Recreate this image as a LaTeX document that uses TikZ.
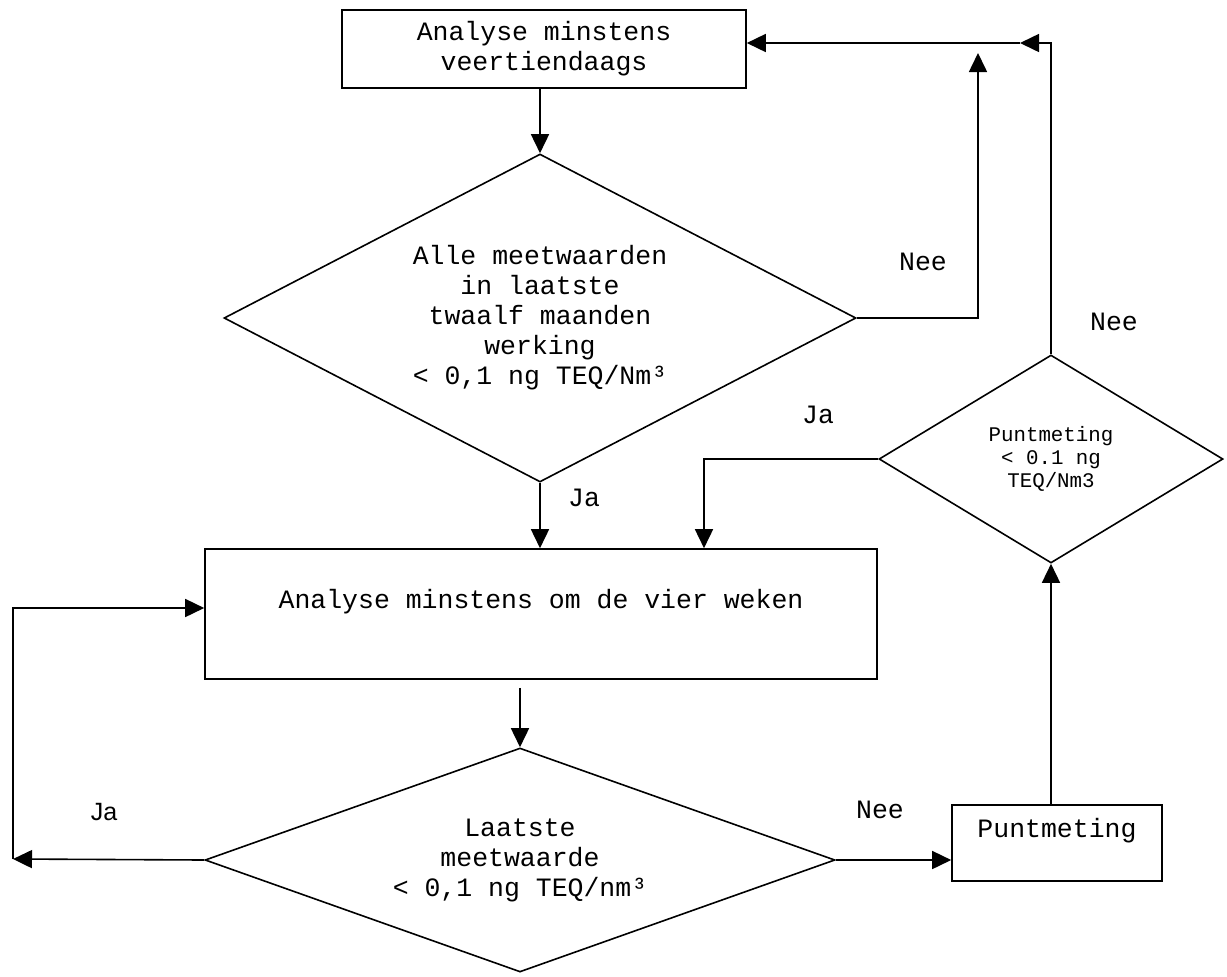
\documentclass[tikz,border=0pt]{standalone}
\usepackage{fontspec}
\setmainfont{Liberation Mono}
\setsansfont{Liberation Sans}
\usetikzlibrary{positioning,shapes.geometric,arrows.meta}

\begin{document}
\begin{tikzpicture}[x=0.5pt, y=-0.5pt, line width=0.8pt,
  square/.style={rectangle, draw, align=center, inner sep=0pt},
  ruit/.style={diamond, draw, align=center, inner sep=0pt},
  pijl/.style={-{Triangle[length=9.5pt,width=9pt]}},
  every node/.style={font=\fontsize{13.25}{15}\selectfont}]
\useasboundingbox (0,0) rectangle (1227,976);
        \node at (544,49) [square, minimum width=202pt, minimum height=39pt] (a14) {Analyse minstens\\veertiendaags};
        \node at (540,318) [ruit, aspect=1.93, minimum width=316pt, minimum height=164pt] (v12) {Alle meetwaarden\\in laatste\\twaalf maanden\\werking\\< 0,1 ng TEQ/Nm³};
        \node at (541,614) [square, minimum width=336pt, minimum height=65pt] (a4) {Analyse minstens om de vier weken\\\mbox{}};
        \node at (520,860) [ruit, aspect=2.8, minimum width=315pt, minimum height=112pt] (v1) {Laatste\\meetwaarde\\< 0,1 ng TEQ/nm³};
        \node at (1057,843) [square, minimum width=105pt, minimum height=38pt] (pm) {Puntmeting\\\mbox{}};
        \node at (1051,459) [ruit, aspect=1.65, minimum width=172pt, minimum height=104pt, font=\fontsize{10.4}{11.5}\selectfont] (vpm) {Puntmeting\\< 0.1 ng\\TEQ/Nm3};
        \coordinate (n12) at (978,53);
        \coordinate (top) at (1020,43);
        \coordinate (ja3) at (704,0);
        \coordinate (lus) at (13,859);
        \coordinate (lus2) at (13,608);
        \draw [pijl](v12.north |- a14.south) -- (v12.north);
        \draw [pijl](v12.south) -- (v12.south |- a4.north);
        \draw [pijl]([yshift=-4pt]v1.north |- a4.south) -- (v1.north);
        \draw [pijl](v12.east) -| (n12);
        \draw [pijl](vpm.north) |- (top);
        \draw [pijl](top) -- (a14.east |- top);
        \draw [pijl](vpm.west) -| (ja3 |- a4.north);
        \draw [pijl](v1.east) -- (v1.east -| pm.west);
        \draw [pijl](vpm.south |- pm.north) -- (vpm.south);
        \draw [pijl](v1.west) -- (lus);
        \draw [pijl](lus) -- (lus2) -- (a4.west |- lus2);
        \node at (923,262) {Nee};
        \node at (1114,322) {Nee};
        \node at (818,415) {Ja};
        \node at (584,498) {Ja};
        \node at (880,810) {Nee};
        \node at (104,812) [font=\sffamily\fontsize{12.5}{14}\selectfont] {Ja};
\end{tikzpicture}
\end{document}
